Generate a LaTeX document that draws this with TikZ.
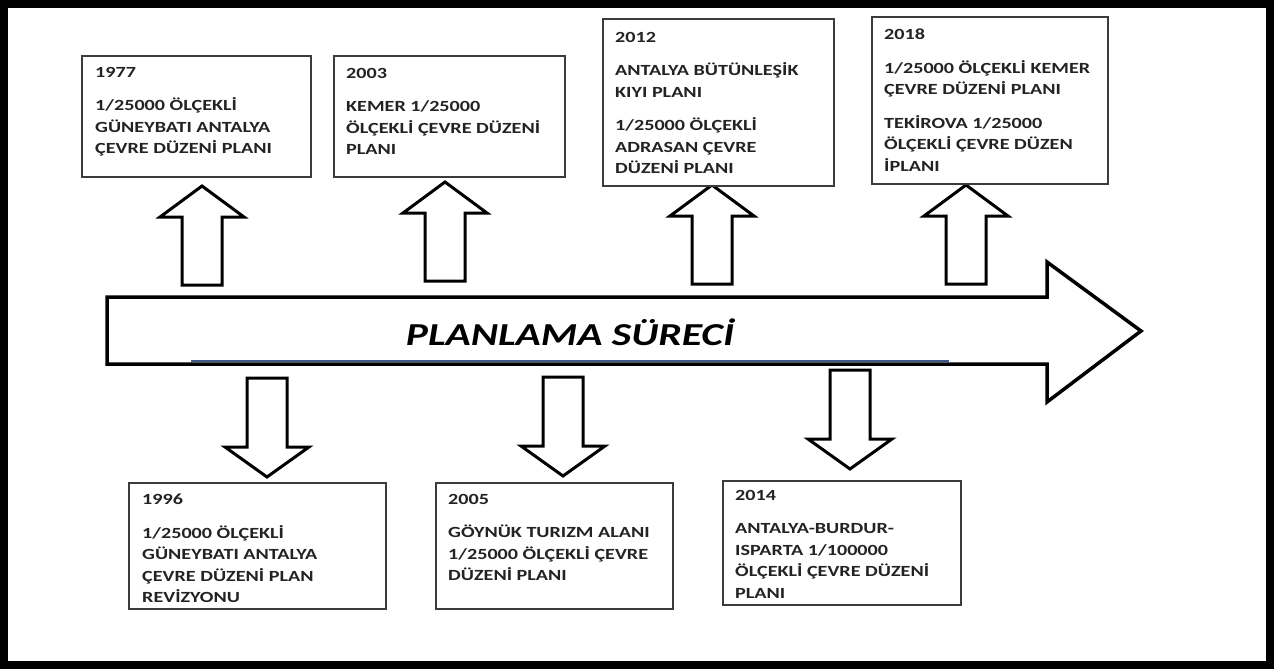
\documentclass[tikz,border=0pt]{standalone}
\usepackage{fontspec}
\newfontfamily\boxfont[FakeStretch=1.3]{Carlito}
\definecolor{boxline}{RGB}{60,60,60}
\definecolor{txtcol}{RGB}{35,35,35}
\definecolor{bluelinecol}{RGB}{60,90,135}
\tikzset{
  box/.style={draw=boxline, line width=1.3pt, fill=white},
  boxtext/.style={anchor=north west, inner sep=0pt, align=left, text=txtcol,
    font={\boxfont\bfseries\fontsize{15.5}{21.5}\selectfont}},
  arrline/.style={draw=black, line width=3pt, fill=white, line join=miter},
  bigarrline/.style={draw=black, line width=3.5pt, fill=white, line join=miter},
  titletext/.style={inner sep=0pt, font={\boxfont\bfseries\itshape\fontsize{32}{36}\selectfont}},
  uparr/.pic={\draw[arrline] (-20,0) -- (-20,-68) -- (-42,-68) -- (0,-99) -- (42,-68) -- (20,-68) -- (20,0) -- cycle;},
  downarr/.pic={\draw[arrline] (-20,0) -- (-20,69) -- (-42,69) -- (0,99) -- (42,69) -- (20,69) -- (20,0) -- cycle;}
}
\begin{document}
\begin{tikzpicture}[x=1pt,y=-1pt]
\useasboundingbox (0,0) rectangle (1275,669);
\fill[white] (0,0) rectangle (1275,669);
\draw[line width=8pt] (4,4) rectangle (1270,665);

% big arrow
\draw[bigarrline] (107,297) -- (1047,297) -- (1047,262) -- (1141,331) -- (1047,402) -- (1047,364) -- (107,364) -- cycle;
\coordinate (bl1) at (191,361);
\coordinate (bl2) at (949,361);
\draw[bluelinecol, line width=2pt] (bl1) -- (bl2);
\node[titletext] (title) at (570,332) {PLANLAMA SÜRECİ};

% up arrows
\pic (a1) at (202,285) {uparr};
\pic (a2) at (445,281) {uparr};
\pic (a3) at (712,284) {uparr};
\pic (a4) at (966,284) {uparr};
% down arrows
\pic (d1) at (267,378) {downarr};
\pic (d2) at (563,377) {downarr};
\pic (d3) at (850,370) {downarr};

% boxes
\draw[box] (82,56) rectangle (311,177);
\node[boxtext] (t1977) at (95,67) {1977\\[12pt]1/25000 ÖLÇEKLİ\\GÜNEYBATI ANTALYA\\ÇEVRE DÜZENİ PLANI};

\draw[box] (334,56) rectangle (565,177);
\node[boxtext] (t2003) at (346,68) {2003\\[12pt]KEMER 1/25000\\ÖLÇEKLİ ÇEVRE DÜZENİ\\PLANI};

\draw[box] (603,19) rectangle (834,186);
\node[boxtext] (t2012) at (615,32) {2012\\[12pt]ANTALYA BÜTÜNLEŞİK\\KIYI PLANI\\[12pt]1/25000 ÖLÇEKLİ\\ADRASAN ÇEVRE\\DÜZENİ PLANI};

\draw[box] (872,17) rectangle (1108,184);
\node[boxtext] (t2018) at (884,29) {2018\\[12pt]1/25000 ÖLÇEKLİ KEMER\\ÇEVRE DÜZENİ PLANI\\[12pt]TEKİROVA 1/25000\\ÖLÇEKLİ ÇEVRE DÜZEN\\İPLANI};

\draw[box] (129,483) rectangle (386,609);
\node[boxtext] (t1996) at (142,494) {1996\\[12pt]1/25000 ÖLÇEKLİ\\GÜNEYBATI ANTALYA\\ÇEVRE DÜZENİ PLAN\\REVİZYONU};

\draw[box] (436,483) rectangle (673,609);
\node[boxtext] (t2005) at (448,494) {2005\\[12pt]GÖYNÜK TURIZM ALANI\\1/25000 ÖLÇEKLİ ÇEVRE\\DÜZENİ PLANI};

\draw[box] (723,481) rectangle (961,605);
\node[boxtext] (t2014) at (735,490) {2014\\[12pt]ANTALYA-BURDUR-\\ISPARTA 1/100000\\ÖLÇEKLİ ÇEVRE DÜZENİ\\PLANI};
\end{tikzpicture}
\end{document}
